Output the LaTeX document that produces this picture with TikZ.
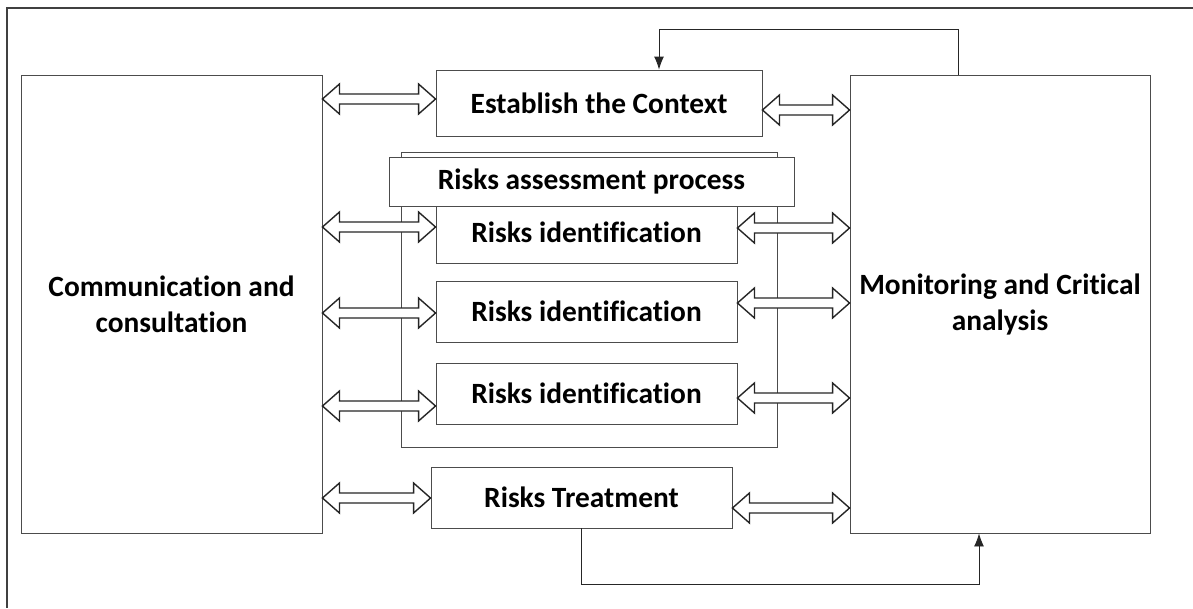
\documentclass[tikz,border=0pt]{standalone}
\usepackage{fontspec}
\setmainfont{Carlito}[Ligatures=NoCommon]
\usetikzlibrary{arrows.meta,calc}
\tikzset{
  box/.style={draw=black!70, line width=0.9pt, fill=white, inner sep=0pt, align=center,
    font=\fontsize{29.4}{36}\selectfont\bfseries},
  harrow/.style={draw=black!85, line width=1.4pt, fill=white, line join=miter},
  fb/.style={draw=black!85, line width=0.9pt, -{Latex[length=13pt,width=10pt]}},
  frame/.style={draw=black!75, line width=1.5pt}
}
\newcommand\dbl[2]{\draw[harrow] let \p1=#1, \p2=#2 in
  (\x1,\y1) -- (\x1+17pt,\y1+15pt) -- (\x1+17pt,\y1+5pt) -- (\x2-17pt,\y1+5pt) -- (\x2-17pt,\y1+15pt)
  -- (\x2,\y1) -- (\x2-17pt,\y1-15pt) -- (\x2-17pt,\y1-5pt) -- (\x1+17pt,\y1-5pt) -- (\x1+17pt,\y1-15pt) -- cycle;}
\begin{document}
\begin{tikzpicture}[x=1pt,y=-1pt]
\useasboundingbox (0,0) rectangle (1193,608);
\fill[white] (0,0) rectangle (1193,608);
% outer frame
\coordinate (fTL) at (7,8);
\coordinate (fTR) at (1193,8);
\coordinate (fBL) at (7,608);
\draw[frame] (fTR) -- (fTL) -- (fBL);
% main boxes
\node[box, minimum width=301pt, minimum height=458pt] (comm) at (171.5,304) {Communication and\\consultation};
\node[box, minimum width=300pt, minimum height=458pt] (mon) at (1000,304) {Monitoring and Critical\\analysis};
\node[box, minimum width=326pt, minimum height=66pt] (ctx) at (599,103) {Establish the Context};
\node[box, minimum width=376pt, minimum height=295pt] (cont) at (589,299.5) {};
\node[box, minimum width=301pt, minimum height=62pt] (id1) at (586.5,232) {Risks identification};
\node[box, minimum width=405pt, minimum height=49pt] (ass) at (591.5,181.5) {Risks assessment process};
\node[box, minimum width=301pt, minimum height=61pt] (id2) at (586.5,311.5) {Risks identification};
\node[box, minimum width=301pt, minimum height=61pt] (id3) at (586.5,393.5) {Risks identification};
\node[box, minimum width=301pt, minimum height=61pt] (trt) at (581.5,497.5) {Risks Treatment};
% double arrows
\dbl{(comm.east |- 0,99)}{(ctx.west |- 0,99)}
\dbl{(ctx.east |- 0,110)}{(mon.west |- 0,110)}
\dbl{(comm.east |- 0,227)}{(id1.west |- 0,227)}
\dbl{(id1.east |- 0,228)}{(mon.west |- 0,228)}
\dbl{(comm.east |- 0,313)}{(id2.west |- 0,313)}
\dbl{(id2.east |- 0,303)}{(mon.west |- 0,303)}
\dbl{(comm.east |- 0,406)}{(id3.west |- 0,406)}
\dbl{(id3.east |- 0,398)}{(mon.west |- 0,398)}
\dbl{(comm.east |- 0,498)}{(trt.west |- 0,498)}
\dbl{(trt.east |- 0,508)}{(mon.west |- 0,508)}
% feedback loops
\coordinate (topy) at (0,29);
\coordinate (boty) at (0,584);
\draw[fb] ($(mon.north)+(-42,0)$) |- (topy -| 659,0) -- ($(ctx.north)+(60,0)$);
\draw[fb] (trt.south) |- (boty -| 979,0) -- ($(mon.south)+(-21,0)$);
\end{tikzpicture}
\end{document}
